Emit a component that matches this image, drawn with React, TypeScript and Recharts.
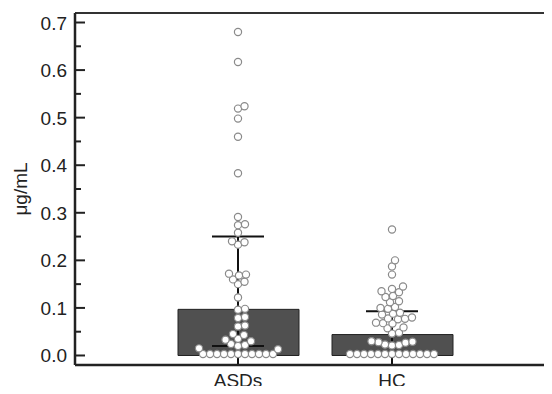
import {
  ComposedChart,
  Bar,
  Scatter,
  ErrorBar,
  XAxis,
  YAxis,
  ReferenceLine,
} from "recharts";

const groups = ["ASDs", "HC"];
const means = [0.097, 0.044];
const lowerWhisker = [0.02, 0.002];
const upperWhisker = [0.25, 0.093];

const asdValues = [
  0.003, 0.003, 0.003, 0.003, 0.003, 0.003, 0.003, 0.003, 0.003, 0.003, 0.003,
  0.013, 0.015, 0.02, 0.022, 0.024, 0.03, 0.033, 0.035, 0.043, 0.045, 0.061,
  0.063, 0.079, 0.081, 0.096, 0.098, 0.122, 0.15, 0.155, 0.16, 0.168, 0.17,
  0.172, 0.233, 0.238, 0.24, 0.258, 0.274, 0.276, 0.291, 0.383, 0.46, 0.498,
  0.519, 0.524, 0.68, 0.617,
];
const hcValues = [
  0.003, 0.003, 0.003, 0.003, 0.003, 0.003, 0.003, 0.003, 0.003, 0.003, 0.003,
  0.003, 0.003, 0.021, 0.022, 0.023, 0.027, 0.028, 0.029, 0.03, 0.046, 0.048,
  0.057, 0.059, 0.067, 0.068, 0.069, 0.076, 0.077, 0.078, 0.08, 0.086, 0.088,
  0.09, 0.098, 0.1, 0.102, 0.112, 0.114, 0.123, 0.125, 0.133, 0.135, 0.14,
  0.145, 0.17, 0.187, 0.2, 0.265,
];

const yTicks = [
  0, 0.05, 0.1, 0.15, 0.2, 0.25, 0.3, 0.35, 0.4, 0.45, 0.5, 0.55, 0.6, 0.65,
  0.7,
];

const Y_MIN = -0.02;
const Y_MAX = 0.72;
const PLOT_H = 352;
const PAD = 86;
const BAND = 154;
const DOT_GAP = 6.8;

const yPx = PLOT_H / (Y_MAX - Y_MIN);

// simple deterministic beeswarm: nearest free horizontal slot
function swarm(values: number[], center: number) {
  const placed: { x: number; y: number }[] = [];
  const sorted = [...values].sort((a, b) => a - b);
  return sorted.map((v) => {
    const py = v * yPx;
    let off = 0;
    for (let k = 0; k < 400; k++) {
      const cand = k === 0 ? 0 : (k % 2 ? 1 : -1) * Math.ceil(k / 2) * 0.5;
      if (placed.every((p) => Math.hypot(p.x - cand, p.y - py) >= DOT_GAP)) {
        off = cand;
        break;
      }
    }
    placed.push({ x: off, y: py });
    return { x: center + off / BAND, y: v };
  });
}

const barData = groups.map((g, i) => ({ cat: g, mean: means[i] }));
const errData = groups.map((g, i) => ({
  x: i + 1,
  y: means[i],
  err: [means[i] - lowerWhisker[i], upperWhisker[i] - means[i]],
}));
const dots = [...swarm(asdValues, 1), ...swarm(hcValues, 2)];

const swarmLo = 1 - (PAD + BAND / 2) / BAND;
const swarmHi = 2 + (PAD + BAND / 2) / BAND;

const FONT = "'Liberation Sans', Arial, sans-serif";

const YTick = ({ x, y, payload }: any) => {
  const v = payload.value;
  const major = Math.abs(Math.round(v * 10) - v * 10) < 1e-6;
  return (
    <g>
      <line x1={x} x2={x + (major ? 10 : 6)} y1={y} y2={y} stroke="#222" strokeWidth={2} />
      {major && (
        <text x={x - 8} y={y} dy={7} textAnchor="end" fontSize={19} fill="#222" fontFamily={FONT}>
          {v.toFixed(1)}
        </text>
      )}
    </g>
  );
};

const XTick = ({ x, y, payload }: any) => (
  <text x={x} y={y} dy={15} textAnchor="middle" fontSize={19} fill="#222" fontFamily={FONT}>
    {payload.value}
  </text>
);

const Dot = (p: any) => (
  <circle cx={p.cx} cy={p.cy} r={3.6} fill="#fff" stroke="#8a8a8a" strokeWidth={1.2} />
);

export default function App() {
  return (
    <div style={{ margin: -8, width: 552, height: 394, overflow: "hidden", background: "#fff" }}>
      <ComposedChart
        width={560}
        height={394}
        data={barData}
        margin={{ top: 13, right: 5, bottom: 5, left: 0 }}
        style={{ fontFamily: FONT }}
      >
        <XAxis
          xAxisId="swarm"
          dataKey="x"
          type="number"
          orientation="top"
          height={0}
          domain={[swarmLo, swarmHi]}
          allowDataOverflow
          hide
        />
        <XAxis
          xAxisId="cat"
          dataKey="cat"
          type="category"
          padding={{ left: PAD, right: PAD }}
          height={24}
          tickSize={7}
          tickMargin={0}
          tickLine={false}
          axisLine={{ stroke: "#222", strokeWidth: 2.5 }}
          tick={<XTick />}
        />
        <YAxis
          dataKey="y"
          type="number"
          domain={[Y_MIN, Y_MAX]}
          allowDataOverflow
          ticks={yTicks}
          interval={0}
          width={75}
          tickSize={0}
          tickMargin={0}
          tickLine={false}
          axisLine={{ stroke: "#222", strokeWidth: 2.5 }}
          tick={<YTick />}
          label={{
            value: "μg/mL",
            angle: -90,
            position: "insideLeft",
            offset: 20,
            fontSize: 19,
            fill: "#222",
            style: { textAnchor: "middle", fontFamily: FONT },
          }}
        />
        <ReferenceLine xAxisId="cat" y={Y_MAX} stroke="#333" strokeWidth={2} />
        <Bar
          xAxisId="cat"
          dataKey="mean"
          barSize={121}
          fill="#505050"
          stroke="#222"
          strokeWidth={1}
          isAnimationActive={false}
        />
        <Scatter
          xAxisId="swarm"
          data={dots}
          shape={<Dot />}
          isAnimationActive={false}
        />
        <Scatter
          xAxisId="swarm"
          data={errData}
          shape={() => <g />}
          isAnimationActive={false}
        >
          <ErrorBar
            dataKey="err"
            direction="y"
            width={26}
            stroke="#111"
            strokeWidth={2}
            isAnimationActive={false}
          />
        </Scatter>
        {groups.map((g, i) => (
          <ReferenceLine
            key={g}
            xAxisId="cat"
            segment={[
              { x: g, y: Y_MIN },
              { x: g, y: lowerWhisker[i] },
            ]}
            stroke="#111"
            strokeWidth={2}
          />
        ))}
      </ComposedChart>
    </div>
  );
}
